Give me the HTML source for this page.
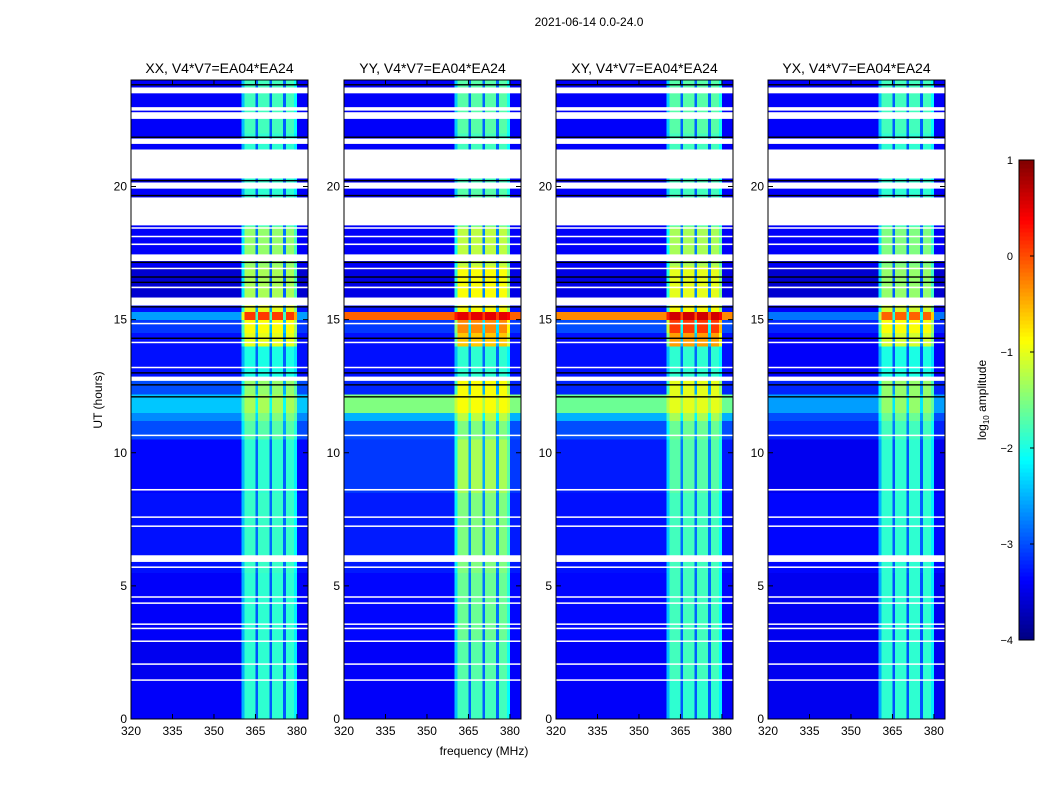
<!DOCTYPE html>
<html><head><meta charset="utf-8"><style>
body{margin:0;background:#fff;}
svg{display:block;font-family:"Liberation Sans",sans-serif;}
</style></head><body>
<svg id="fig" width="1050" height="800" viewBox="0 0 1050 800">
<rect width="1050" height="800" fill="#fff"/>
<text x="589" y="26" font-size="12" text-anchor="middle">2021-06-14 0.0-24.0</text>
<text x="484" y="755" font-size="12" text-anchor="middle">frequency (MHz)</text>
<text x="102" y="400" font-size="12" text-anchor="middle" transform="rotate(-90 102 400)">UT (hours)</text>
<g id="panels"></g>
<g id="cbar"></g>
</svg>
<script>
const panelTitles=["XX, V4*V7=EA04*EA24","YY, V4*V7=EA04*EA24","XY, V4*V7=EA04*EA24","YX, V4*V7=EA04*EA24"];
const segStart=[0,1.5,3,5.5,8.5,10.5,11.2,11.5,12.2,12.8,14,14.5,15,15.3,15.6,17,18.5,20,22];
const segEnd=[1.5,3,5.5,8.5,10.5,11.2,11.5,12.2,12.8,14,14.5,15,15.3,15.6,17,18.5,20,22,24];
const baseXX=[-3.4,-3.45,-3.4,-3.3,-3.35,-3.0,-2.7,-2.4,-3.0,-3.3,-3.3,-3.1,-2.6,-3.3,-3.6,-3.4,-3.4,-3.4,-3.4];
const bandXX=[-1.9,-1.9,-1.9,-1.85,-1.9,-1.7,-1.5,-1.3,-1.4,-2.0,-1.0,-0.9,0.1,-1.0,-1.3,-1.4,-1.9,-1.9,-1.8];
const baseYY=[-3.4,-3.4,-3.35,-3.25,-3.1,-3.0,-2.5,-1.5,-3.2,-3.3,-3.3,-3.1,-0.1,-3.3,-3.5,-3.4,-3.4,-3.4,-3.4];
const bandYY=[-1.8,-1.7,-1.6,-1.5,-1.3,-1.5,-1.2,-0.9,-0.9,-1.9,-0.6,-0.3,0.5,-0.9,-0.9,-1.2,-1.7,-1.8,-1.7];
const baseXY=[-3.4,-3.4,-3.35,-3.3,-3.25,-3.0,-2.5,-1.6,-3.2,-3.3,-3.3,-3.0,-0.3,-3.3,-3.5,-3.4,-3.4,-3.4,-3.4];
const bandXY=[-1.9,-1.8,-1.8,-1.8,-1.7,-1.6,-1.3,-1.0,-1.0,-1.9,-0.4,0.1,0.6,-0.9,-1.0,-1.3,-1.8,-1.8,-1.7];
const baseYX=[-3.45,-3.45,-3.45,-3.35,-3.45,-3.2,-3.0,-2.6,-3.2,-3.4,-3.4,-3.2,-2.8,-3.4,-3.6,-3.4,-3.4,-3.4,-3.4];
const bandYX=[-1.9,-1.9,-1.9,-1.9,-1.9,-1.8,-1.6,-1.4,-1.4,-2.0,-1.1,-0.9,-0.1,-1.1,-1.4,-1.5,-1.9,-1.9,-1.8];
const freqStart=[320,321,322,323,324,325,326,327,328,329,330,331,332,333,334,335,336,337,338,339,340,341,342,343,344,345,346,347,348,349,350,351,352,353,354,355,356,357,358,359,360,361,362,363,364,365,366,367,368,369,370,371,372,373,374,375,376,377,378,379,380,381,382,383];
const inBand=[0,0,0,0,0,0,0,0,0,0,0,0,0,0,0,0,0,0,0,0,0,0,0,0,0,0,0,0,0,0,0,0,0,0,0,0,0,0,0,0,0.6,1,1,1,1,0.3,1,1,1,1,0.3,1,1,1,1,0.3,1,1,1,0.8,0,0,0,0];
const flagStart=[23.5,22.85,22.54,21.6,20.3,19.92,18.54,18.42,18.1,17.8,17.2,16.9,16.18,15.53,14.84,14.12,13.18,12.7,10.63,8.58,7.56,7.22,5.9,5.68,4.56,4.33,3.54,3.38,2.9,2.04,1.44];
const flagEnd=[23.72,22.98,22.79,21.8,21.39,20.15,19.59,18.47,18.15,17.86,17.45,16.95,16.24,15.83,14.88,14.17,13.23,12.86,10.68,8.64,7.61,7.27,6.15,5.73,4.61,4.38,3.59,3.43,2.95,2.09,1.49];
const blackLines=[23.82,21.85,20.22,19.66,17.15,16.6,16.4,15.48,14.3,13.0,12.55,12.1];
const yTicks=[0,5,10,15,20];
const xTicks=[320,335,350,365,380];
const cbTicks=[1,0,-1,-2,-3,-4];

const NS="http://www.w3.org/2000/svg";
function mk(tag,attrs,parent){const e=document.createElementNS(NS,tag);for(const k in attrs)e.setAttribute(k,attrs[k]);parent.appendChild(e);return e;}
function jet(v){let t=Math.max(0,Math.min(1,(v+4)/5));
 function c(x){return Math.max(0,Math.min(1,x));}
 const r=c(1.5-Math.abs(4*t-3)),g=c(1.5-Math.abs(4*t-2)),b=c(1.5-Math.abs(4*t-1));
 return `rgb(${Math.round(r*255)},${Math.round(g*255)},${Math.round(b*255)})`;}
const panelX=[131,344,556,768],PW=177,PT=80,PB=719;
const fx=(f,i)=>panelX[i]+(f-320)/64*PW;
const ty=t=>PB-t/24*(PB-PT);
const bases=[baseXX,baseYY,baseXY,baseYX],bands=[bandXX,bandYY,bandXY,bandYX];
const pg=document.getElementById('panels');
for(let p=0;p<4;p++){
 const g=mk('g',{},pg);
 
 
 const hm=mk('g',{'shape-rendering':'crispEdges'},g);
 
 
 for(let s=0;s<segStart.length;s++){
  const y1=ty(segEnd[s]),y0=ty(segStart[s]);
  for(let c=0;c<freqStart.length;c++){
   const w=inBand[c];
   const v=bases[p][s]*(1-w)+bands[p][s]*w;
   const x0=fx(freqStart[c],p),x1=fx(freqStart[c]+1,p);
   const r=mk('rect',{x:x0.toFixed(2),y:y1.toFixed(2),width:(x1-x0+0.3).toFixed(2),height:(y0-y1+0.3).toFixed(2),fill:jet(v)},hm);
   
   
  }
 }
 for(let k=0;k<blackLines.length;k++){
  const y=ty(blackLines[k]);
  const l=mk('rect',{x:panelX[p],y:(y-0.7).toFixed(2),width:PW,height:1.4,fill:'#000'},g);
  
  
 }
 for(let k=0;k<flagStart.length;k++){
  const y1=ty(flagEnd[k]),y0=ty(flagStart[k]);
  const l=mk('rect',{x:panelX[p],y:y1.toFixed(2),width:PW,height:Math.max(1.5,y0-y1).toFixed(2),fill:'#fff'},g);
  
  
 }
 const fr=mk('rect',{x:panelX[p],y:PT,width:PW,height:PB-PT,fill:'none',stroke:'#000','stroke-width':1},g);
 
 
 const tt=mk('text',{x:panelX[p]+PW/2,y:73,'font-size':14,'text-anchor':'middle'},g);
 tt.textContent=panelTitles[p];
 
 
 yTicks.forEach(t=>{const y=ty(t);
  mk('line',{x1:panelX[p],x2:panelX[p]+5,y1:y,y2:y,stroke:'#000'},g);
  mk('line',{x1:panelX[p]+PW-5,x2:panelX[p]+PW,y1:y,y2:y,stroke:'#000'},g);
  const lb=mk('text',{x:panelX[p]-4,y:y+4,'font-size':12,'text-anchor':'end'},g);
  lb.textContent=t;
  
  });
 xTicks.forEach(f=>{const x=fx(f,p);
  mk('line',{x1:x,x2:x,y1:PB,y2:PB-5,stroke:'#000'},g);
  mk('line',{x1:x,x2:x,y1:PT,y2:PT+5,stroke:'#000'},g);
  const lb=mk('text',{x:x,y:PB+16,'font-size':12,'text-anchor':'middle'},g);
  lb.textContent=f;
  
  });
}
// colorbar
const cb=document.getElementById('cbar');


const CX=1019,CW=15,CT=160,CB=640;
const cv=v=>CB-(v+4)/5*(CB-CT);
for(let i=0;i<120;i++){const v0=-4+i*5/120,v1=v0+5/120;
 mk('rect',{x:CX,y:cv(v1).toFixed(2),width:CW,height:((CB-CT)/120+0.5).toFixed(2),fill:jet((v0+v1)/2),'shape-rendering':'crispEdges'},cb);}
mk('rect',{x:CX,y:CT,width:CW,height:CB-CT,fill:'none',stroke:'#000'},cb);
cbTicks.forEach(v=>{const y=cv(v);
 mk('line',{x1:CX+CW-4,x2:CX+CW,y1:y,y2:y,stroke:'#000'},cb);
 const lb=mk('text',{x:1013,y:y+4,'font-size':11,'text-anchor':'end'},cb);
 lb.textContent=(v<0?'\u2212'+(-v):v);
 
 });
const cl=mk('text',{x:986,y:400,'font-size':12,'text-anchor':'middle',transform:'rotate(-90 986 400)'},cb);
cl.innerHTML='log<tspan font-size="8" dy="3">10</tspan><tspan dy="-3"> amplitude</tspan>';


</script>
</body></html>
